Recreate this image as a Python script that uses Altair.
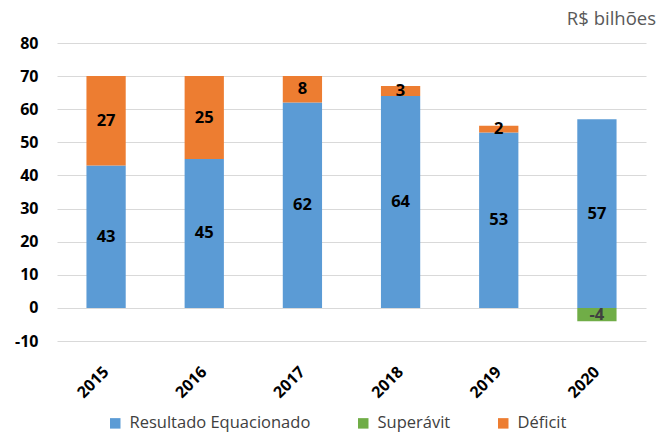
import altair as alt
import pandas as pd

years = ["2015", "2016", "2017", "2018", "2019", "2020"]
equacionado = [43, 45, 62, 64, 53, 57]
superavit = [0, 0, 0, 0, 0, -4]
deficit = [27, 25, 8, 3, 2, 0]

series = ["Resultado Equacionado", "Superávit", "Déficit"]
colors = ["#5B9BD5", "#70AD47", "#ED7D31"]
y_ticks = [-10, 0, 10, 20, 30, 40, 50, 60, 70, 80]

rows = []
for i, y in enumerate(years):
    for k, (name, vals) in enumerate(zip(series, [equacionado, superavit, deficit])):
        v = vals[i]
        if v != 0:
            rows.append({"year": y, "serie": name, "value": v, "ord": k})
df = pd.DataFrame(rows)

FONT = "Open Sans"

base = alt.Chart(df).transform_stack(
    stack="value", groupby=["year"], as_=["y0", "y1"],
    sort=[alt.SortField("ord", order="ascending")]
).transform_calculate(
    mid="(datum.y0 + datum.y1) / 2",
    txt="'' + datum.value",
)

x_enc = alt.X("year:N", sort=years, title=None,
              scale=alt.Scale(paddingInner=0.6, paddingOuter=0.3),
              axis=alt.Axis(labelAngle=-45, labelAlign="right", labelBaseline="middle",
                            labelFontSize=16, labelFontWeight="bold", labelColor="#000000",
                            labelPadding=28, ticks=False, domain=False, labelFont=FONT))

y_axis = alt.Axis(values=y_ticks, tickCount=len(y_ticks), labelFontSize=16,
                  labelFontWeight="bold", labelColor="#000000", labelPadding=19,
                  labelOverlap=False, labelBound=False, labelFlush=False,
                  labelExpr="'' + datum.value",
                  ticks=False, domain=False, gridColor="#D9D9D9", labelFont=FONT)

bars = base.mark_bar().encode(
    x=x_enc,
    y=alt.Y("y0:Q", title=None, scale=alt.Scale(domain=[-10, 80], nice=False), axis=y_axis),
    y2="y1:Q",
    color=alt.Color("serie:N", scale=alt.Scale(domain=series, range=colors),
                    legend=alt.Legend(title=None, orient="none", direction="horizontal",
                                      legendX=50, legendY=372, symbolType="square",
                                      symbolSize=110, symbolStrokeWidth=0,
                                      labelFontSize=16.5, labelColor="#404040", labelLimit=0,
                                      labelFont=FONT, columnPadding=44, labelOffset=6)),
)

labels = base.mark_text(fontSize=16.5, fontWeight="bold", font=FONT).encode(
    x=alt.X("year:N", sort=years),
    y=alt.Y("mid:Q", axis=y_axis, title=None),
    text=alt.Text("txt:N"),
    color=alt.condition("datum.value < 0", alt.value("#404040"), alt.value("#000000")),
)

chart = (bars + labels).properties(
    width=589, height=298,
    title=alt.TitleParams("R$ bilhões", anchor="end", fontSize=18.5, fontWeight="normal",
                          color="#595959", font=FONT, offset=7, dx=10),
    autosize=alt.AutoSizeParams(type="none"),
    padding={"left": 57, "top": 43, "right": 13, "bottom": 92},
).configure_view(stroke=None)

chart.save("out.html", embed_options={"renderer": "svg", "actions": False})
